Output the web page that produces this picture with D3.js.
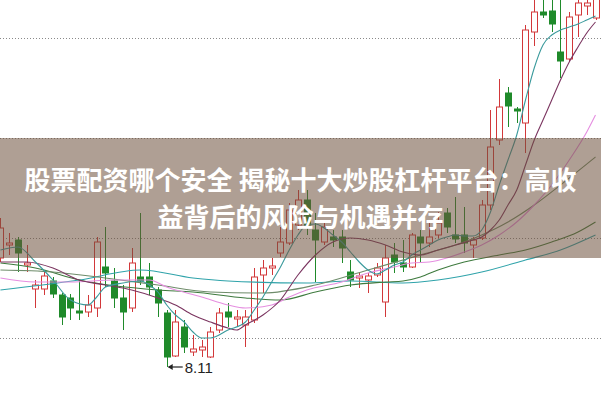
<!DOCTYPE html>
<html>
<head>
<meta charset="utf-8">
<script src="https://cdn.jsdelivr.net/npm/d3@7"></script>
<style>
  html, body { margin: 0; padding: 0; background: #fff; }
  svg { display: block; }
  .title { font-family: "Noto Sans CJK SC", sans-serif; font-weight: 700; font-size: 26px; fill: #fff; }
  .lowlabel { font-family: "Liberation Sans", Arial, sans-serif; font-size: 15px; fill: #222; }
</style>
</head>
<body>
<div id="chart"></div>
<script>
// daily candles: open, close, high, low
var opens  = [9.20,9.33,9.38,9.13,8.89,8.89,8.97,8.83,8.80,8.67,8.66,8.70,9.11,8.97,8.80,8.70,9.01,9.01,8.88,8.65,
              8.22,8.51,8.26,8.28,8.21,8.48,8.66,8.59,8.53,8.58,9.03,9.10,9.25,9.35,9.53,9.78,9.48,9.36,9.41,9.41,
              9.06,9.00,8.98,9.03,8.76,9.23,9.15,9.11,9.41,9.35,9.43,9.65,9.43,9.43,9.33,9.40,9.73,10.38,10.85,10.69,
              10.55,11.46,11.66,11.67,11.26,11.19,11.63,11.72,11.60];
var closes = [9.50,9.35,9.25,9.15,8.93,9.02,8.84,8.61,8.70,8.65,8.73,9.36,9.05,8.80,8.66,9.15,8.97,8.91,8.75,8.21,
              8.56,8.31,8.29,8.31,8.46,8.65,8.61,8.61,8.61,9.01,9.10,9.12,9.36,9.68,9.78,9.53,9.38,9.51,9.38,9.30,
              8.98,9.02,9.02,9.10,9.20,9.16,9.11,9.43,9.35,9.41,9.55,9.51,9.39,9.35,9.38,9.73,10.31,10.71,10.72,10.67,
              11.48,11.66,11.63,11.54,11.17,11.61,11.75,11.75,11.80];
var highs  = [9.60,9.45,9.41,9.33,8.98,9.06,9.01,8.85,8.84,8.98,8.83,9.41,9.51,9.10,8.93,9.30,9.65,9.15,8.91,8.68,
              8.68,8.58,8.43,8.38,8.51,8.70,8.75,8.68,8.68,9.10,9.18,9.20,9.51,9.75,9.88,9.88,9.65,9.58,9.48,9.48,
              9.18,9.06,9.05,9.15,9.33,9.35,9.38,9.45,9.48,9.55,9.66,9.70,9.81,9.71,9.41,9.78,10.68,10.99,10.91,10.71,
              11.53,11.85,11.85,11.85,11.85,11.66,11.85,11.85,11.85];
var lows   = [9.16,9.23,9.06,9.06,8.70,8.83,8.80,8.53,8.58,8.58,8.61,8.61,8.91,8.70,8.48,8.66,8.93,8.83,8.61,8.11,
              8.21,8.25,8.22,8.21,8.20,8.45,8.51,8.51,8.31,8.55,8.85,9.03,9.21,9.33,9.48,9.43,8.96,9.33,9.31,9.15,
              8.91,8.90,8.85,9.01,8.61,9.05,9.06,9.10,9.16,9.31,9.40,9.45,9.35,9.25,9.20,9.38,9.68,10.33,10.51,10.55,
              10.25,11.32,11.60,11.46,11.00,11.16,11.41,11.63,11.58];

// moving averages: [candle index, price]
var ma5 = [[0,9.28],[2,9.31],[4,9.16],[6,8.98],[8,8.78],[10,8.73],[11,8.81],[12,8.91],[14,8.95],[16,8.97],[17,8.93],
           [18,8.86],[19,8.73],[20,8.63],[21,8.56],[22,8.46],[23,8.40],[24,8.40],[26,8.48],[28,8.56],[29,8.68],[30,8.81],
           [31,8.96],[32,9.11],[33,9.28],[34,9.43],[35,9.53],[36,9.54],[37,9.50],[38,9.43],[39,9.36],[40,9.26],[41,9.16],
           [42,9.08],[43,9.04],[44,9.08],[45,9.13],[46,9.16],[47,9.23],[48,9.28],[49,9.33],[50,9.38],[51,9.41],[52,9.43],
           [53,9.42],[54,9.42],[55,9.48],[56,9.66],[57,9.93],[58,10.18],[59,10.43],[60,10.78],[61,11.10],[62,11.33],
           [63,11.43],[64,11.48],[65,11.51],[66,11.54],[67,11.58],[68,11.62]];
var ma10 = [[0,9.16],[3,9.16],[6,9.10],[9,8.98],[12,8.93],[15,8.88],[18,8.80],[20,8.73],[22,8.63],[24,8.56],[26,8.50],
            [27,8.48],[28,8.53],[30,8.63],[32,8.78],[34,9.03],[36,9.23],[38,9.36],[40,9.40],[42,9.38],[44,9.33],[46,9.26],
            [48,9.23],[50,9.28],[52,9.33],[54,9.38],[55,9.41],[56,9.48],[57,9.58],[58,9.73],[59,9.88],[60,10.13],[61,10.38],
            [62,10.58],[63,10.78],[64,10.98],[65,11.16],[66,11.31],[67,11.45],[68,11.56]];
var ma20 = [[0,9.00],[4,8.96],[8,8.96],[13,8.98],[17,8.98],[19,8.91],[23,8.81],[26,8.73],[28,8.70],[31,8.73],[33,8.81],
            [35,8.88],[39,8.96],[42,9.05],[45,9.11],[47,9.15],[49,9.16],[51,9.20],[53,9.26],[55,9.33],[57,9.43],[59,9.56],
            [61,9.73],[63,9.93],[65,10.18],[67,10.46],[68,10.63]];
var ma30 = [[0,9.08],[6,9.06],[12,9.00],[18,8.93],[24,8.86],[30,8.85],[36,8.93],[42,9.08],[48,9.23],[52,9.33],[55,9.43],
            [58,9.56],[61,9.73],[64,9.93],[68,10.21]];
var ma60 = [[0,9.15],[4,9.10],[9,8.98],[18,8.88],[22,8.86],[28,8.80],[32,8.78],[36,8.86],[40,8.93],[44,8.96],[46,8.97],
            [48,9.01],[50,9.08],[53,9.16],[57,9.23],[60,9.28],[63,9.36],[66,9.46],[68,9.56]];
var ma120 = [[0,8.88],[9,8.98],[16,9.08],[22,9.00],[26,8.97],[35,8.95],[40,8.97],[46,8.95],[50,8.98],[55,9.06],[60,9.18],
             [64,9.28],[68,9.43]];

var gridPrices = [8.4, 9.4, 10.4, 11.4];
var lowIndex = 19;
var lowLabel = "8.11";
var titleLines = ["股票配资哪个安全 揭秘十大炒股杠杆平台：高收", "益背后的风险与机遇并存"];

var width = 601, height = 399;
var upColor = "#d2383a", downColor = "#1f8a2a";

var svg = d3.select("#chart").append("svg")
  .attr("width", width)
  .attr("height", height);

svg.append("rect").attr("width", width).attr("height", height).attr("fill", "#fff");

var x = d3.scaleLinear().domain([0, opens.length - 1]).range([0.45, 595.5]);
var y = d3.scaleLinear().domain([8.4, 11.4]).range([338, 38]);
var bodyW = 6;

// dotted grid lines
svg.selectAll("line.grid")
  .data(gridPrices)
  .enter().append("line")
  .attr("class", "grid")
  .attr("x1", 0).attr("x2", width)
  .attr("y1", function(d) { return Math.round(y(d)) + 0.5; })
  .attr("y2", function(d) { return Math.round(y(d)) + 0.5; })
  .attr("stroke", "#8a8a8a")
  .attr("stroke-width", 1)
  .attr("stroke-dasharray", "1,2");

var candles = opens.map(function(o, i) {
  return { i: i, o: o, c: closes[i], h: highs[i], l: lows[i], up: closes[i] >= o };
});

var g = svg.append("g");

// wicks
g.selectAll("line.wick")
  .data(candles)
  .enter().append("line")
  .attr("x1", function(d) { return Math.round(x(d.i)) + 0.5; })
  .attr("x2", function(d) { return Math.round(x(d.i)) + 0.5; })
  .attr("y1", function(d) { return y(d.h); })
  .attr("y2", function(d) { return y(d.l); })
  .attr("stroke", function(d) { return d.up ? upColor : downColor; })
  .attr("stroke-width", 1);

// bodies: hollow red for up days, filled green for down days
g.selectAll("rect.body")
  .data(candles)
  .enter().append("rect")
  .attr("x", function(d) { return Math.round(x(d.i)) - bodyW / 2 + 0.5; })
  .attr("y", function(d) { return y(Math.max(d.o, d.c)); })
  .attr("width", bodyW)
  .attr("height", function(d) { return Math.max(1, Math.abs(y(d.o) - y(d.c))); })
  .attr("fill", function(d) { return d.up ? "#fff" : downColor; })
  .attr("stroke", function(d) { return d.up ? upColor : downColor; })
  .attr("stroke-width", 1);

// moving average lines
var line = d3.line()
  .x(function(d) { return x(d[0]); })
  .y(function(d) { return y(d[1]); })
  .curve(d3.curveMonotoneX);

var maSeries = [
  { data: ma120, color: "#2fa3aa" },
  { data: ma60, color: "#3e7a3e" },
  { data: ma30, color: "#6e8c6a" },
  { data: ma20, color: "#e58ee0" },
  { data: ma10, color: "#7b3560" },
  { data: ma5, color: "#3a9a9c" }
];

svg.selectAll("path.ma")
  .data(maSeries)
  .enter().append("path")
  .attr("d", function(d) { return line(d.data); })
  .attr("fill", "none")
  .attr("stroke", function(d) { return d.color; })
  .attr("stroke-width", 1.1);

// low marker
var lx = x(lowIndex), ly = y(lows[lowIndex]);
svg.append("line")
  .attr("x1", lx + 2).attr("x2", lx + 16)
  .attr("y1", ly).attr("y2", ly)
  .attr("stroke", "#222").attr("stroke-width", 1.2);
svg.append("path")
  .attr("d", "M" + (lx + 1) + "," + ly + "l5,-3l0,6z")
  .attr("fill", "#222");
svg.append("text")
  .attr("class", "lowlabel")
  .attr("x", lx + 18)
  .attr("y", ly + 6)
  .text(lowLabel);

// title band
svg.append("rect")
  .attr("x", 0).attr("y", 138)
  .attr("width", width).attr("height", 120)
  .attr("fill", "rgb(110,80,60)")
  .attr("fill-opacity", 0.55);

svg.selectAll("text.title")
  .data(titleLines)
  .enter().append("text")
  .attr("class", "title")
  .attr("x", width / 2)
  .attr("y", function(d, i) { return 190 + i * 37; })
  .attr("text-anchor", "middle")
  .text(function(d) { return d; });
</script>
</body>
</html>
